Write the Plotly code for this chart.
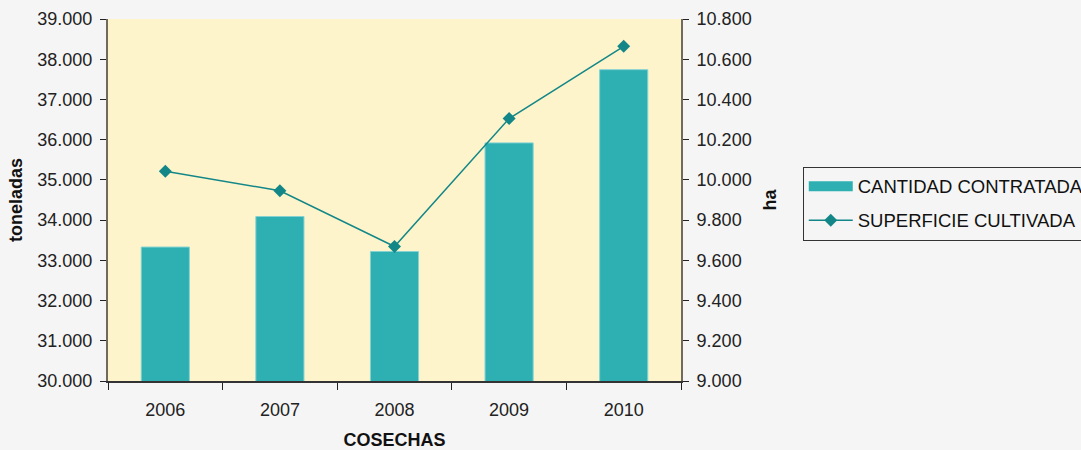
import plotly.graph_objects as go

years = ["2006", "2007", "2008", "2009", "2010"]
cantidad = [33330, 34090, 33220, 35920, 37740]      # toneladas
superficie = [10043, 9946, 9669, 10305, 10664]      # ha

left_ticks = [30000, 31000, 32000, 33000, 34000, 35000, 36000, 37000, 38000, 39000]
right_ticks = [9000, 9200, 9400, 9600, 9800, 10000, 10200, 10400, 10600, 10800]

FONT = "Liberation Sans, Arial, sans-serif"
BAR = "#2EB0B2"
LINE = "#138787"
AXC = "#6f6a5c"

fig = go.Figure()
fig.add_trace(go.Bar(
    x=years, y=cantidad, name="CANTIDAD CONTRATADA", width=0.42,
    marker=dict(color=BAR, line=dict(color="#86d2d3", width=1)),
    showlegend=False, yaxis="y"))
# legend proxy for wide rectangle swatch
fig.add_trace(go.Scatter(
    x=[None], y=[None], mode="lines", name="CANTIDAD CONTRATADA",
    line=dict(color=BAR, width=11), legendgroup="a", showlegend=True, yaxis="y"))
fig.add_trace(go.Scatter(
    x=years, y=superficie, name="SUPERFICIE CULTIVADA", mode="lines+markers",
    line=dict(color=LINE, width=1.5),
    marker=dict(symbol="diamond", size=10, color=LINE),
    legendgroup="b", yaxis="y2"))

tickfont = dict(family=FONT, size=18, color="#222")
titlefont = dict(family=FONT, size=18, color="#111", weight="bold")

fig.update_layout(
    width=1081, height=450,
    margin=dict(l=108, r=400, t=19, b=69, autoexpand=False),
    paper_bgcolor="#f5f5f5",
    plot_bgcolor="#FDF4CB",
    font=dict(family=FONT, size=18, color="#222"),
    separators=",.",
    xaxis=dict(
        type="category", tickson="boundaries", ticks="outside", ticklen=7,
        tickcolor="#222", showline=True, linecolor="#333", linewidth=1.5,
        showgrid=False, tickfont=tickfont, ticklabelstandoff=12,
        automargin=False,
        title=dict(text="COSECHAS", font=titlefont, standoff=19)),
    yaxis=dict(
        range=[30000, 39000], tickvals=left_ticks, tickformat=",d",
        ticks="outside", ticklen=6, tickcolor="#222",
        showline=True, linecolor=AXC, linewidth=2, showgrid=False,
        zeroline=False, tickfont=tickfont, ticklabelstandoff=4,
        automargin=False,
        title=dict(text="toneladas", font=titlefont, standoff=10)),
    yaxis2=dict(
        range=[9000, 10800], tickvals=right_ticks, tickformat=",d",
        overlaying="y", side="right",
        ticks="outside", ticklen=6, tickcolor="#222",
        showline=True, linecolor=AXC, linewidth=2, showgrid=False,
        zeroline=False, tickfont=tickfont, ticklabelstandoff=4,
        automargin=False,
        title=dict(text="ha", font=titlefont, standoff=13)),
    yaxis3=dict(
        range=[30000, 39000], tickvals=left_ticks, overlaying="y", side="left",
        ticks="inside", ticklen=6, tickcolor="#222", showticklabels=False,
        showline=False, showgrid=False, zeroline=False, automargin=False),
    yaxis4=dict(
        range=[9000, 10800], tickvals=right_ticks, overlaying="y", side="right",
        ticks="inside", ticklen=6, tickcolor="#222", showticklabels=False,
        showline=False, showgrid=False, zeroline=False, automargin=False),
    legend=dict(
        x=1.2125, y=0.592, xanchor="left", yanchor="top",
        bgcolor="rgba(0,0,0,0)", bordercolor="#333", borderwidth=1,
        font=dict(family=FONT, size=18.5, color="#111"),
        traceorder="grouped", tracegroupgap=7, itemwidth=44),
)

fig.write_html(
    "out.html",
    config={"displayModeBar": False},
    post_script="document.body.style.margin='0';document.body.style.background='#f5f5f5';document.body.style.overflow='hidden';",
)
